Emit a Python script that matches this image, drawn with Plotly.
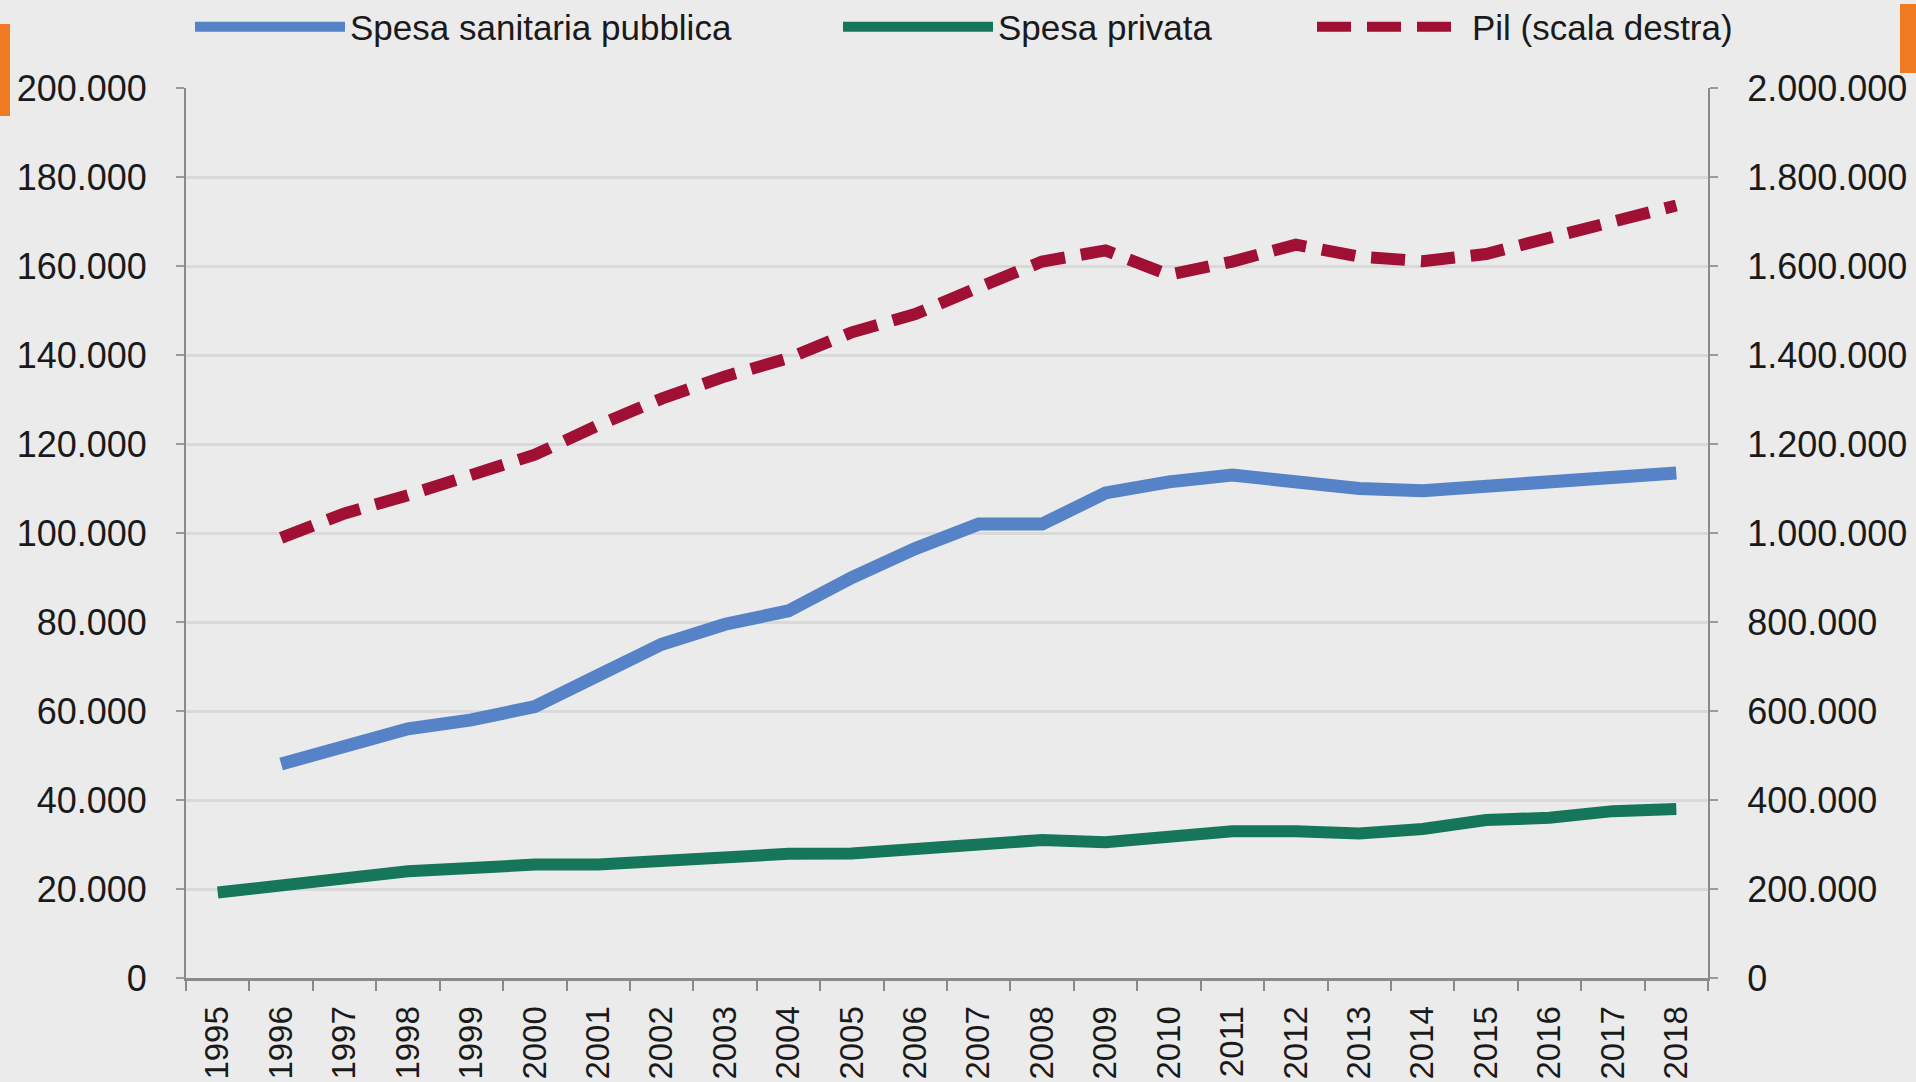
import plotly.graph_objects as go

# Spesa sanitaria pubblica, spesa privata e PIL (milioni di euro)
years = [str(y) for y in range(1995, 2019)]

spesa_pubblica = [
    None, 48100, 52000, 56000, 58000, 61000, 68000, 75000, 79500, 82500,
    90000, 96500, 102000, 102000, 109000, 111500, 113000, 111500, 110000,
    109500, 110500, 111000, 112000, 113500,
]
spesa_privata = [
    19200, 20600, 22500, 24000, 24700, 25500, 25500, 26300, 26700, 27900,
    28000, 29000, 29500, 31000, 30500, 31500, 33000, 33000, 32500, 33500,
    35500, 36000, 37500, 38000,
]
pil = [
    None, 989000, 1044000, 1085000, 1132000, 1176000, 1242000, 1302000,
    1352000, 1393000, 1451000, 1492000, 1552000, 1610000, 1635000, 1580000,
    1610000, 1648000, 1621000, 1611000, 1627000, 1662000, 1703000, 1736000,
]

left_ticks = list(range(0, 200001, 20000))
right_ticks = list(range(0, 2000001, 200000))

BG = "#EBEBEB"
FONT = "Liberation Sans, Arial, sans-serif"

# page and plot area in pixels
W, H = 1916, 1082
L, R, T, B = 186, 1708, 88, 978


def px_x(px):
    return (px - L) / (R - L)


def px_y(py):
    return (B - py) / (B - T)


fig = go.Figure()
fig.add_trace(
    go.Scatter(
        x=years,
        y=spesa_pubblica,
        mode="lines",
        name="Spesa sanitaria pubblica",
        line=dict(color="#5683C8", width=13),
        legend="legend",
    )
)
fig.add_trace(
    go.Scatter(
        x=years,
        y=spesa_privata,
        mode="lines",
        name="Spesa privata",
        line=dict(color="#15765A", width=12),
        legend="legend2",
    )
)
fig.add_trace(
    go.Scatter(
        x=years,
        y=pil,
        mode="lines",
        name="Pil (scala destra)",
        line=dict(color="#A01034", width=12, dash="34px,16px"),
        yaxis="y2",
        legend="legend3",
    )
)

legend_common = dict(
    visible=True,
    orientation="h",
    itemwidth=150,
    bgcolor="rgba(0,0,0,0)",
    font=dict(size=35, color="#1a1a1a", family=FONT),
    xref="container",
    yref="container",
    xanchor="left",
    yanchor="middle",
    y=1 - 27 / H,
)

fig.update_layout(
    width=W,
    height=H,
    showlegend=True,
    paper_bgcolor=BG,
    plot_bgcolor=BG,
    separators=",.",
    margin=dict(l=L, r=W - R, t=T, b=H - B, pad=0, autoexpand=False),
    font=dict(family=FONT, color="#1a1a1a"),
    legend=dict(legend_common, x=190 / W),
    legend2=dict(legend_common, x=838 / W),
    legend3=dict(legend_common, x=1312 / W),
    xaxis=dict(
        type="category",
        range=[-0.5, len(years) - 0.5],
        automargin=False,
        tickangle=-90,
        tickfont=dict(size=33, color="#1a1a1a"),
        ticks="outside",
        tickson="boundaries",
        ticklen=10,
        tickcolor="#8a8a8a",
        tickwidth=2,
        showline=True,
        linecolor="#8a8a8a",
        linewidth=3,
        showgrid=False,
        ticklabelstandoff=12,
    ),
    yaxis=dict(
        range=[0, 200000],
        automargin=False,
        tickvals=left_ticks,
        tickformat=",.0f",
        tickfont=dict(size=36, color="#1a1a1a"),
        ticks="outside",
        ticklen=8,
        tickcolor="#9a9a9a",
        tickwidth=2,
        showline=True,
        linecolor="#8a8a8a",
        linewidth=2,
        gridcolor="#D9D9D9",
        gridwidth=3,
        zeroline=False,
        ticklabelstandoff=22,
    ),
    yaxis2=dict(
        range=[0, 2000000],
        automargin=False,
        tickvals=right_ticks,
        tickformat=",.0f",
        tickfont=dict(size=36, color="#1a1a1a"),
        overlaying="y",
        side="right",
        ticks="outside",
        ticklen=8,
        tickcolor="#9a9a9a",
        tickwidth=2,
        showline=True,
        linecolor="#8a8a8a",
        linewidth=2,
        showgrid=False,
        zeroline=False,
        ticklabelstandoff=22,
    ),
)

# orange slide decorations at the top corners
for x0, x1, y0, y1 in [(-10, 10, 24, 116), (1900, 1930, 4, 73)]:
    fig.add_shape(
        type="rect",
        xref="paper",
        yref="paper",
        x0=px_x(x0),
        x1=px_x(x1),
        y0=px_y(y1),
        y1=px_y(y0),
        fillcolor="#F07A22",
        line=dict(width=0),
        layer="above",
    )

fig.write_html(
    "out.html",
    config={"displayModeBar": False},
    post_script="document.body.style.margin='0';document.body.style.background='#EBEBEB';",
)
